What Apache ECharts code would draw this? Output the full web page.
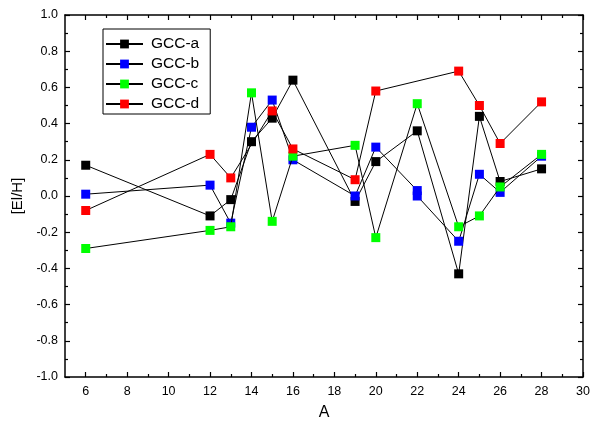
<!DOCTYPE html>
<html>
<head>
<meta charset="utf-8">
<script src="https://cdn.jsdelivr.net/npm/echarts@6/dist/echarts.min.js"></script>
<style>html,body{margin:0;padding:0;background:#fff;}#c{width:590px;height:423px;}</style>
</head>
<body>
<div id="c"></div>
<script>
var seriesNames = ['GCC-a', 'GCC-b', 'GCC-c', 'GCC-d'];
var xA = [6, 12, 13, 14, 15, 16, 19, 20, 22, 24, 25, 26, 28];
var gccA = [0.17, -0.11, -0.02, 0.30, 0.43, 0.64, -0.03, 0.19, 0.36, -0.43, 0.44, 0.08, 0.15];
var xB = [6, 12, 13, 14, 15, 16, 19, 20, 22, 22, 24, 25, 26, 28];
var gccB = [0.01, 0.06, -0.15, 0.38, 0.53, 0.20, 0.00, 0.27, 0.03, 0.00, -0.25, 0.12, 0.02, 0.22];
var xC = [6, 12, 13, 14, 15, 16, 19, 20, 22, 24, 25, 26, 28];
var gccC = [-0.29, -0.19, -0.17, 0.57, -0.14, 0.22, 0.28, -0.23, 0.51, -0.17, -0.11, 0.05, 0.23];
var xD = [6, 12, 13, 15, 16, 19, 20, 24, 25, 26, 28];
var gccD = [-0.08, 0.23, 0.10, 0.47, 0.26, 0.09, 0.58, 0.69, 0.50, 0.29, 0.52];
var xMajorTicks = [6, 8, 10, 12, 14, 16, 18, 20, 22, 24, 26, 28, 30];
var xMinorTicks = [7, 9, 11, 13, 15, 17, 19, 21, 23, 25, 27, 29];
var markerColors = ['#000000', '#0000ff', '#00ff00', '#ff0000'];

function pairs(xs, ys) { return xs.map(function (x, i) { return [x, ys[i]]; }); }
var allX = [xA, xB, xC, xD];
var allY = [gccA, gccB, gccC, gccD];

var FONT = 'Liberation Sans, Arial, sans-serif';
var chart = echarts.init(document.getElementById('c'), null, {renderer: 'canvas'});

function xAxisDef(pos, ticks, len, showLine, showLabel, name) {
  return {
    type: 'value', position: pos, min: 5, max: 30,
    name: name || '', nameLocation: 'middle', nameGap: 28,
    nameTextStyle: {fontFamily: FONT, fontSize: 16, color: '#000'},
    axisLine: {show: showLine, onZero: false, lineStyle: {color: '#000', width: 1.5}},
    axisTick: {show: true, inside: true, length: len, customValues: ticks, lineStyle: {color: '#000', width: 1.2}},
    axisLabel: {show: showLabel, customValues: ticks, margin: 8, fontFamily: FONT, fontSize: 12.5, color: '#000'},
    splitLine: {show: false}
  };
}
function yAxisDef(pos, showLabel, name) {
  return {
    type: 'value', position: pos, min: -1, max: 1, interval: 0.2,
    name: name || '', nameLocation: 'middle', nameGap: 36,
    nameTextStyle: {fontFamily: FONT, fontSize: 15, color: '#000'},
    axisLine: {show: true, onZero: false, lineStyle: {color: '#000', width: 1.5}},
    axisTick: {show: true, inside: true, length: 5, lineStyle: {color: '#000', width: 1.2}},
    minorTick: {show: true, splitNumber: 2, length: 3, lineStyle: {color: '#000', width: 1.2}},
    axisLabel: {show: showLabel, margin: 7, fontFamily: FONT, fontSize: 12.5, color: '#000',
      formatter: function (v) { return v.toFixed(1); }},
    splitLine: {show: false}
  };
}

var series = seriesNames.map(function (n, i) {
  return {
    name: n, type: 'line', xAxisIndex: 0, yAxisIndex: 0,
    data: pairs(allX[i], allY[i]),
    symbol: 'rect', symbolSize: 9,
    lineStyle: {color: '#000', width: 1},
    itemStyle: {color: markerColors[i]},
    emphasis: {disabled: true},
    animation: false, z: 2 + i
  };
});

chart.setOption({
  animation: false,
  grid: {left: 65, right: 7, top: 15, bottom: 46, containLabel: false, outerBoundsMode: 'none'},
  xAxis: [
    xAxisDef('bottom', xMajorTicks, 5, true, true, 'A'),
    xAxisDef('bottom', xMinorTicks, 3, false, false),
    xAxisDef('top', xMajorTicks, 5, true, false),
    xAxisDef('top', xMinorTicks, 3, false, false)
  ],
  yAxis: [yAxisDef('left', true, '[El/H]'), yAxisDef('right', false)],
  legend: {
    orient: 'vertical', left: 103, top: 29,
    data: seriesNames,
    itemWidth: 37, itemHeight: 11, itemGap: 4,
    padding: [7, 11, 2, 2],
    borderColor: '#000', borderWidth: 1,
    textStyle: {fontFamily: FONT, fontSize: 15.5, color: '#000', padding: [0, 0, 0, 3]},
    selectedMode: false
  },
  series: series
});
</script>
</body>
</html>
